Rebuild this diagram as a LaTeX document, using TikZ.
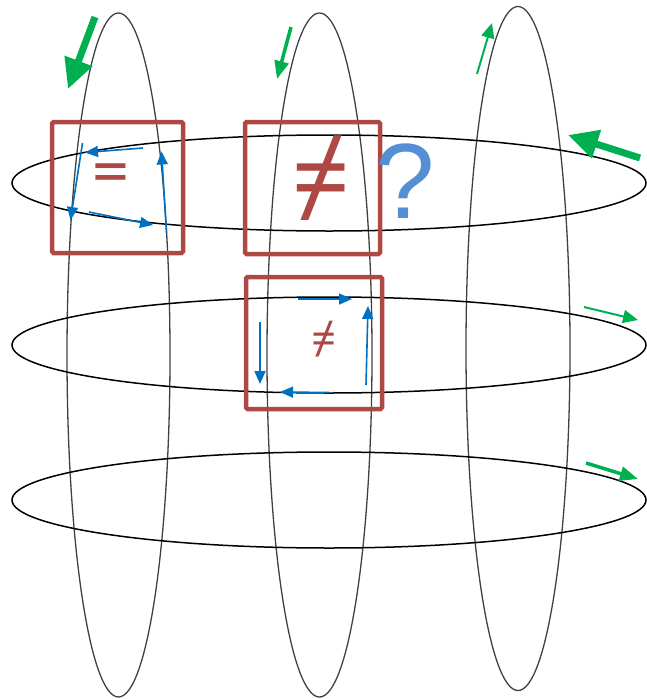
\documentclass[tikz,border=0pt]{standalone}
\usepackage{fontspec}
\setmainfont{Liberation Sans}
\newfontfamily\signfont{Noto Sans}
\newfontfamily\eqfont{Carlito}
\usetikzlibrary{arrows.meta}
\definecolor{boxred}{HTML}{AE4844}
\definecolor{flowblue}{HTML}{0070C0}
\definecolor{spingreen}{HTML}{00B050}
\definecolor{askblue}{HTML}{558ED5}

\begin{document}
\begin{tikzpicture}[
    x=1pt, y=-1pt,
    loopv/.style={draw=black!75, line width=1.3pt},
    looph/.style={draw=black, line width=1.5pt},
    cellbox/.style={
        draw=boxred, line width=4.5pt, rounded corners=1.5pt,
        inner sep=0pt,
    },
    sign/.style={text=boxred, inner sep=0pt},
    flow/.style={-{Triangle[length=13pt, width=11pt]}, flowblue, line width=1.6pt},
    spinbig/.style={-{Triangle[length=30pt, width=28pt]}, spingreen, line width=7pt},
    spinmid/.style={-{Triangle[length=18pt, width=14pt]}, spingreen, line width=3.5pt},
    spinsmall/.style={-{Triangle[length=15pt, width=13pt]}, spingreen, line width=2pt},
]
\useasboundingbox (0,0) rectangle (646,699);

% Vertical loops
\draw[loopv] (118.5,355) ellipse (51.5 and 342);
\draw[loopv] (319.5,355) ellipse (52.5 and 342);
\draw[loopv] (518,348.5) ellipse (52 and 342);

% Horizontal loops
\draw[looph] (329,183) ellipse (317 and 48);
\draw[looph] (329,345) ellipse (317 and 48);
\draw[looph] (329,500) ellipse (317 and 48);

% Plaquettes
\node[cellbox, minimum width=131pt, minimum height=131pt] (eqbox) at (117.5,187.5) {};
\node[cellbox, minimum width=135pt, minimum height=132pt] (neqbox) at (312.5,188) {};
\node[cellbox, minimum width=136pt, minimum height=132pt] (loopbox) at (314,343) {};

% Signs
\node[sign, font=\eqfont\fontsize{74pt}{74pt}\selectfont] (eqsign) at (110.5,180) {=};
\node[sign, font=\signfont\fontsize{104pt}{104pt}\selectfont] (neqsign) at (321,178) {≠};
\node[sign, font=\signfont\fontsize{44pt}{44pt}\selectfont] (neqsmall) at (324.5,339) {≠};
\node[text=askblue, inner sep=0pt, font=\fontsize{107pt}{107pt}\selectfont] (ask) at (405,181) {?};

% Blue circulation, first plaquette
\draw[flow] (143,148) -- (85,152.5);
\draw[flow] (82.5,143) -- (70.5,220);
\draw[flow] (89,212) -- (153,225);
\draw[flow] (166.5,232.5) -- (161.5,151.5);

% Blue circulation, lower plaquette
\draw[flow] (298,299) -- (352,299);
\draw[flow] (366,385) -- (368,306);
\draw[flow] (329,392.5) -- (280,392);
\draw[flow] (260,322) -- (260,384);

% Green spin arrows
\draw[spinbig] (95,17) -- (68,89);
\draw[spinmid] (291,27) -- (277,79);
\draw[spinsmall] (477,74) -- (492,23);
\draw[spinbig] (640,158) -- (568,135);
\draw[spinsmall] (584,307) -- (638,320);
\draw[spinmid] (586,463) -- (638,479);

\end{tikzpicture}
\end{document}
